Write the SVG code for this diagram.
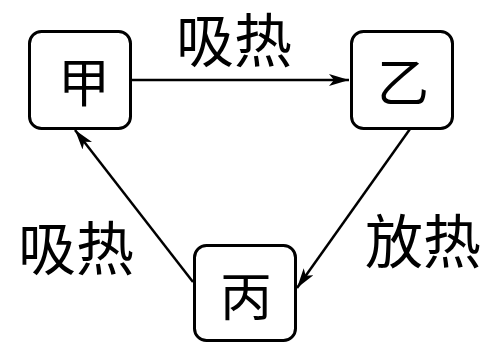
<svg xmlns="http://www.w3.org/2000/svg" width="493" height="343" viewBox="0 0 493 343">
<style>
.box{fill:#fff;stroke:#000;stroke-width:3}
.t{font-family:"Noto Sans CJK SC","Noto Sans CJK JP",sans-serif;fill:#000;text-anchor:middle}
.n{font-size:52px}
.l{font-size:58px}
.c{stroke:#000;stroke-width:2.5;fill:none;marker-end:url(#ah)}
</style>
<defs>
<marker id="ah" markerUnits="userSpaceOnUse" markerWidth="24" markerHeight="14" refX="20" refY="6" orient="auto">
<path d="M0,0 L20,6 L0,12 L5,6 Z" fill="#000"/>
</marker>
</defs>
<g id="connectors">
<line class="c" x1="131" y1="80" x2="349" y2="80"/>
<line class="c" x1="410" y1="129" x2="297" y2="288"/>
<line class="c" x1="193" y1="282" x2="75" y2="130"/>
</g>
<g id="jia">
<rect class="box" x="29.5" y="31.5" width="101" height="97" rx="12"/>
<text class="t n" x="84" y="102">甲</text>
</g>
<g id="yi">
<rect class="box" x="351.5" y="31.5" width="101" height="97" rx="12"/>
<text class="t n" x="403" y="102">乙</text>
</g>
<g id="bing">
<rect class="box" x="194.5" y="245.5" width="101" height="95" rx="12"/>
<text class="t n" x="246" y="316">丙</text>
</g>
<g id="labels">
<text class="t l" x="234" y="62">吸热</text>
<text class="t l" x="76" y="270">吸热</text>
<text class="t l" x="423" y="263">放热</text>
</g>
</svg>
